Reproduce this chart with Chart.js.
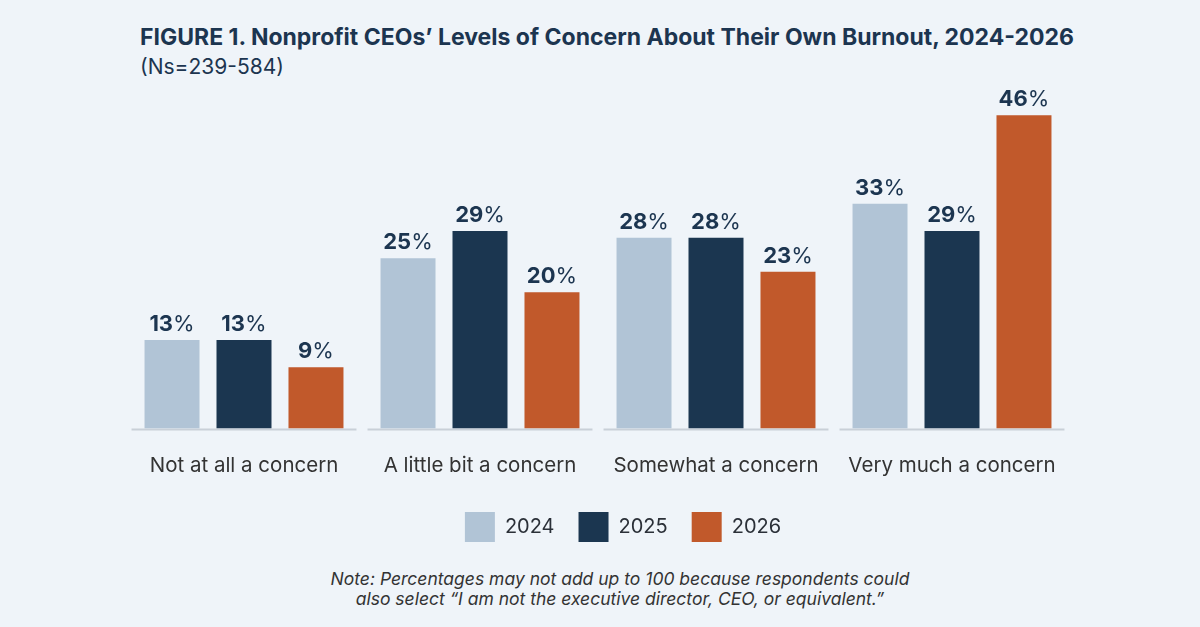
<!DOCTYPE html>
<html lang="en">
<head>
  <meta charset="UTF-8" />
  <title>Nonprofit CEOs' Levels of Concern About Their Own Burnout</title>
  <script src="https://cdn.jsdelivr.net/npm/chart.js"></script>
  <style>
    body, html {
      margin: 0;
      padding: 0;
      background: #eff4f9;
      font-family: 'Inter', 'Roboto', sans-serif;
    }

    #wrap {
      position: relative;
      width: 1200px;
      height: 627px;
      overflow: hidden;
    }

    .title {
      position: absolute;
      left: 140px;
      top: 25px;
      margin: 0;
      font-size: 23px;
      line-height: 24px;
      font-weight: 700;
      color: #1c3550;
      white-space: nowrap;
    }

    .subtitle {
      position: absolute;
      left: 140px;
      top: 56px;
      font-size: 21px;
      line-height: 22px;
      color: #1c3550;
    }

    .note {
      position: absolute;
      left: 300px;
      width: 640px;
      top: 569px;
      text-align: center;
      font-size: 17.5px;
      line-height: 20px;
      font-style: italic;
      color: #333;
    }

    #chartBox {
      position: absolute;
      left: 0;
      top: 0;
      width: 1200px;
      height: 562px;
    }
  </style>
</head>
<body>
  <div id="wrap">
    <h1 class="title">FIGURE 1. Nonprofit CEOs’ Levels of Concern About Their Own Burnout, 2024-2026</h1>
    <div class="subtitle">(Ns=239-584)</div>
    <div id="chartBox"><canvas id="burnoutChart"></canvas></div>
    <div class="note">Note: Percentages may not add up to 100 because respondents could<br>also select “I am not the executive director, CEO, or equivalent.”</div>
  </div>

  <script>
    // data
    const categories = ['Not at all a concern', 'A little bit a concern', 'Somewhat a concern', 'Very much a concern'];
    const years = ['2024', '2025', '2026'];
    const values2024 = [13, 25, 28, 33];
    const values2025 = [13, 29, 28, 29];
    const values2026 = [9, 20, 23, 46];

    const colors = ['#b1c4d6', '#1b3650', '#c1592b'];
    const fontFamily = "'Inter', 'Roboto', sans-serif";

    // grey baseline under each group
    const groupBaseline = {
      id: 'groupBaseline',
      beforeDatasetsDraw(chart) {
        const { ctx, scales: { x, y } } = chart;
        const step = x.getPixelForValue(1) - x.getPixelForValue(0);
        const half = step * 0.953 / 2;
        const yPos = y.getPixelForValue(0) + 1;
        ctx.save();
        ctx.strokeStyle = '#c9d0d8';
        ctx.lineWidth = 2;
        categories.forEach((_, i) => {
          const cx = x.getPixelForValue(i);
          ctx.beginPath();
          ctx.moveTo(cx - half, yPos);
          ctx.lineTo(cx + half, yPos);
          ctx.stroke();
        });
        ctx.restore();
      }
    };

    // value labels: bold number, regular percent sign
    const valueLabels = {
      id: 'valueLabels',
      afterDatasetsDraw(chart) {
        const { ctx } = chart;
        const bold = `700 22px ${fontFamily}`;
        const regular = `400 22px ${fontFamily}`;
        ctx.save();
        ctx.fillStyle = '#1c3550';
        ctx.textBaseline = 'alphabetic';
        ctx.textAlign = 'left';
        chart.data.datasets.forEach((ds, di) => {
          const meta = chart.getDatasetMeta(di);
          meta.data.forEach((bar, i) => {
            const num = String(ds.data[i]);
            ctx.font = bold;
            const wNum = ctx.measureText(num).width;
            ctx.font = regular;
            const wPct = ctx.measureText('%').width;
            const left = bar.x - (wNum + wPct) / 2;
            const base = bar.y - 9;
            ctx.font = bold;
            ctx.fillText(num, left, base);
            ctx.font = regular;
            ctx.fillText('%', left + wNum, base);
          });
        });
        ctx.restore();
      }
    };

    // legend sits centred under the note, a bit right of the plot centre
    const legendShift = {
      id: 'legendShift',
      afterLayout(chart) {
        chart.legend.left += 25;
        chart.legend.right += 25;
      }
    };

    new Chart(document.getElementById('burnoutChart'), {
      type: 'bar',
      data: {
        labels: categories,
        datasets: [
          { label: years[0], data: values2024, backgroundColor: colors[0] },
          { label: years[1], data: values2025, backgroundColor: colors[1] },
          { label: years[2], data: values2026, backgroundColor: colors[2] }
        ]
      },
      options: {
        responsive: true,
        maintainAspectRatio: false,
        animation: false,
        categoryPercentage: 0.915,
        barPercentage: 0.764,
        layout: {
          padding: { left: 126, right: 130, top: 88, bottom: 10 }
        },
        plugins: {
          tooltip: { enabled: false },
          legend: {
            position: 'bottom',
            labels: {
              boxWidth: 30,
              boxHeight: 30,
              padding: 24,
              color: '#2b3038',
              font: { family: fontFamily, size: 20 }
            }
          }
        },
        scales: {
          x: {
            grid: { display: false, drawTicks: false },
            border: { display: false },
            ticks: {
              color: '#333',
              padding: 25,
              font: { family: fontFamily, size: 20.5 }
            },
            afterFit(scale) {
              scale.height -= 15;
            }
          },
          y: {
            display: false,
            min: 0,
            max: 50
          }
        }
      },
      plugins: [groupBaseline, valueLabels, legendShift]
    });
  </script>
</body>
</html>
